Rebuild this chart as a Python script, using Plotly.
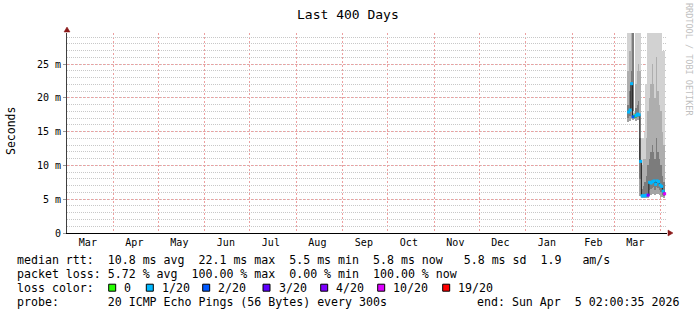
import plotly.graph_objects as go
import pandas as pd

# ---------------- data ----------------
days = ["2026-03-10", "2026-03-11", "2026-03-12", "2026-03-13", "2026-03-14",
        "2026-03-15", "2026-03-16", "2026-03-17", "2026-03-18", "2026-03-19",
        "2026-03-20", "2026-03-21", "2026-03-22", "2026-03-23", "2026-03-24",
        "2026-03-25", "2026-03-26", "2026-03-27", "2026-03-28", "2026-03-29",
        "2026-03-30", "2026-03-31", "2026-04-01", "2026-04-02", "2026-04-03"]
median_ms = [17.9, 18.2, 22.1, 17.2, 17.3, 17.4, 17.6, 17.5, 10.6, 5.5,
             5.5, 5.5, 5.6, 5.6, 7.5, 7.4, 7.6, 7.7, 7.2, 7.7,
             7.6, 7.1, 6.9, 6.2, 5.8]
lost_pings = [1, 1, 1, 2, 0, 1, 1, 1, 1, 1,
              1, 1, 1, 4, 1, 1, 1, 1, 1, 1,
              1, 1, 1, 1, 10]
smoke_min = [16.4, 16.6, 17.0, 16.8, 16.9, 16.6, 16.7, 16.7, 5.5, 5.2,
             5.2, 5.2, 5.2, 5.2, 5.5, 5.6, 5.7, 5.8, 5.6, 5.8,
             5.7, 5.6, 5.4, 5.3, 5.2]
smoke_q1 = [17.0, 17.3, 18.5, 17.0, 17.1, 17.0, 17.1, 17.1, 8.0, 5.4,
            5.4, 5.4, 5.5, 5.6, 6.4, 6.5, 6.7, 6.8, 6.4, 6.8,
            6.7, 6.4, 6.0, 5.6, 5.5]
smoke_q3 = [19.0, 21.0, 24.0, 40.0, 17.5, 18.5, 19.0, 19.5, 14.0, 6.5,
            7.0, 7.5, 8.5, 10.0, 11.0, 12.0, 13.0, 12.0, 11.0, 14.0,
            12.0, 11.0, 10.0, 8.5, 7.5]
smoke_p90 = [24.0, 27.0, 30.0, 40.0, 17.8, 22.0, 24.0, 25.0, 24.0, 10.0,
             11.0, 11.0, 14.0, 18.0, 20.0, 22.0, 25.0, 22.0, 20.0, 26.0,
             21.0, 19.0, 18.0, 15.0, 13.0]
smoke_max = [40.0, 40.0, 40.0, 40.0, 18.0, 40.0, 40.0, 40.0, 40.0, 14.0,
             14.0, 15.0, 22.0, 40.0, 40.0, 40.0, 40.0, 40.0, 40.0, 40.0,
             40.0, 40.0, 40.0, 27.0, 27.0]

loss_levels = [0, 1, 2, 3, 4, 10, 19]
loss_labels = ["0", "1/20", "2/20", "3/20", "4/20", "10/20", "19/20"]
loss_colors = ["#26ff00", "#00b8ff", "#0059ff", "#5e00ff", "#7e00ff", "#dd00ff", "#ff0000"]

month_ticks = ["2025-03-15", "2025-04-15", "2025-05-15", "2025-06-15", "2025-07-15",
               "2025-08-15", "2025-09-15", "2025-10-15", "2025-11-15", "2025-12-15",
               "2026-01-15", "2026-02-15", "2026-03-15"]
month_labels = ["Mar", "Apr", "May", "Jun", "Jul", "Aug", "Sep", "Oct", "Nov",
                "Dec", "Jan", "Feb", "Mar"]
y_tickvals = [0, 5, 10, 15, 20, 25]
y_ticktext = ["0", "5 m", "10 m", "15 m", "20 m", "25 m"]

title_text = "Last 400 Days"
line_rtt = "median rtt:  10.8 ms avg  22.1 ms max  5.5 ms min  5.8 ms now   5.8 ms sd  1.9   am/s"
line_loss = "packet loss: 5.72 % avg  100.00 % max  0.00 % min  100.00 % now"
line_color = "loss color:"
line_probe = "probe:       20 ICMP Echo Pings (56 Bytes) every 300s"
line_end = "end: Sun Apr  5 02:00:35 2026"
watermark = "RRDTOOL / TOBI OETIKER"

# ---------------- geometry ----------------
W, H = 697, 315
L, R, T, B = 67, 30, 33, 82
PW, PH = W - L - R, H - T - B
FONT = "DejaVu Sans Mono"


def px(x):
    return (x - L) / PW


def py(y):
    return (H - B - y) / PH


def nb(s):
    return s.replace(" ", "\u00a0")


x_days = pd.to_datetime(days) + pd.Timedelta(hours=12)
DAY_MS = 86400000

fig = go.Figure()

layers = [
    (smoke_min, smoke_q1, "#a4a4a4"),
    (smoke_q1, smoke_q3, "#7c7c7c"),
    (smoke_q3, smoke_p90, "#aeaeae"),
    (smoke_p90, smoke_max, "#d2d2d2"),
]
for lo, hi, col in layers:
    fig.add_trace(go.Bar(
        x=x_days, base=lo, y=[h - l for l, h in zip(lo, hi)],
        width=DAY_MS, marker=dict(color=col, line=dict(width=0)),
        hoverinfo="skip", showlegend=False))

fig.add_trace(go.Scatter(
    x=x_days, y=median_ms, mode="lines",
    line=dict(color="#202020", width=1, shape="hvh"),
    showlegend=False, hoverinfo="skip"))


def bucket(n):
    b = 0
    for lv in loss_levels:
        if n >= lv:
            b = lv
    return b


for lv, col in zip(loss_levels, loss_colors):
    xs = [x for x, n in zip(x_days, lost_pings) if bucket(n) == lv]
    ys = [m for m, n in zip(median_ms, lost_pings) if bucket(n) == lv]
    if xs:
        fig.add_trace(go.Scatter(
            x=xs, y=ys, mode="markers",
            marker=dict(symbol="square", size=3, color=col, line=dict(width=0)),
            showlegend=False, hoverinfo="skip"))

start = pd.Timestamp("2025-03-01 02:00:35")
end = pd.Timestamp("2026-04-05 02:00:35")

MAJ = "#eda0a0"
MIN = "#c8c8c8"

fig.update_layout(
    width=W, height=H,
    margin=dict(l=L, r=R, t=T, b=B, pad=0),
    paper_bgcolor="white", plot_bgcolor="white",
    barmode="overlay", bargap=0,
    font=dict(family=FONT, color="#000000"),
    xaxis=dict(
        type="date", range=[start, end],
        tickvals=pd.to_datetime(month_ticks), ticktext=month_labels,
        tickfont=dict(size=10, family=FONT, color="#000"),
        ticks="", showgrid=False, zeroline=False,
        showline=True, linecolor="#000000", linewidth=1,
        minor=dict(dtick="M1", tick0="2025-04-01", showgrid=True,
                   gridcolor=MAJ, griddash="2px,2px", gridwidth=1),
        fixedrange=True,
    ),
    yaxis=dict(
        range=[0, 29.6], tickvals=y_tickvals, ticktext=y_ticktext,
        tickfont=dict(size=10, family=FONT, color="#000"),
        ticks="outside", ticklen=3, tickcolor="#999999",
        showgrid=True, gridcolor=MAJ, griddash="2px,2px", gridwidth=1,
        minor=dict(dtick=1, showgrid=True, gridcolor=MIN,
                   griddash="1px,1px", gridwidth=1),
        zeroline=False, showline=True, linecolor="#404040", linewidth=1,
        fixedrange=True,
    ),
)

ann = []
ann.append(dict(text=nb(title_text), x=px(348), xref="paper", y=py(14), yref="paper",
                xanchor="center", yanchor="middle", showarrow=False,
                font=dict(size=13, family=FONT, color="#000"), borderpad=0))
ann.append(dict(text="Seconds", x=px(11), xref="paper", y=py(131), yref="paper",
                xanchor="center", yanchor="middle", showarrow=False, textangle=-90,
                font=dict(size=11.5, family=FONT, color="#000"), borderpad=0))
ann.append(dict(text=nb(watermark), x=px(689), xref="paper", y=py(59), yref="paper",
                xanchor="center", yanchor="middle", showarrow=False, textangle=90,
                font=dict(size=8.5, family=FONT, color="#c0c0c0"), borderpad=0))

LEG = 11.6
for txt, yy in [(line_rtt, 259.5), (line_loss, 273.5), (line_color, 287.5), (line_probe, 301.5)]:
    ann.append(dict(text=nb(txt), x=px(16), xref="paper", y=py(yy), yref="paper",
                    xanchor="left", yanchor="middle", showarrow=False,
                    font=dict(size=LEG, family=FONT, color="#000"), borderpad=0))
ann.append(dict(text=nb(line_end), x=px(680), xref="paper", y=py(301.5), yref="paper",
                xanchor="right", yanchor="middle", showarrow=False,
                font=dict(size=LEG, family=FONT, color="#000"), borderpad=0))

box_left = [108.7, 146.3, 202.7, 263.0, 320.7, 377.7, 442.7]
shapes = []
for bx, lab, col in zip(box_left, loss_labels, loss_colors):
    shapes.append(dict(type="rect", xref="paper", yref="paper",
                       x0=px(bx), x1=px(bx + 7), y0=py(284.2), y1=py(291.2),
                       fillcolor=col, line=dict(color="#000", width=1)))
    ann.append(dict(text=nb(lab), x=px(bx + 14.5), xref="paper", y=py(287.5), yref="paper",
                    xanchor="left", yanchor="middle", showarrow=False,
                    font=dict(size=LEG, family=FONT, color="#000"), borderpad=0))

# axis arrows
shapes.append(dict(type="path", xref="paper", yref="paper",
                   xsizemode="pixel", ysizemode="pixel", xanchor=0, yanchor=1,
                   path="M -3,1 L 3,1 L 0,6 Z", fillcolor="#8b1a1a",
                   line=dict(color="#8b1a1a", width=0.5)))
shapes.append(dict(type="path", xref="paper", yref="paper",
                   xsizemode="pixel", ysizemode="pixel", xanchor=1, yanchor=0,
                   path="M 1,-3 L 1,3 L 6,0 Z", fillcolor="#8b1a1a",
                   line=dict(color="#8b1a1a", width=0.5)))

fig.update_layout(annotations=ann, shapes=shapes)
fig.write_html("out.html")
